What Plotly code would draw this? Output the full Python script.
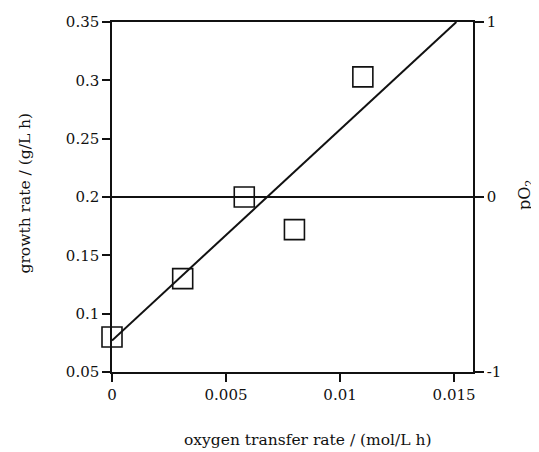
import plotly.graph_objects as go

# data
oxygen_transfer_rate = [0.0, 0.0031, 0.0058, 0.0080, 0.0110]
growth_rate = [0.080, 0.130, 0.200, 0.172, 0.303]
fit_x = [0.0, 0.0151]
fit_y = [0.077, 0.350]

x_ticks = [0, 0.005, 0.01, 0.015]
x_tick_labels = ["0", "0.005", "0.01", "0.015"]
y_ticks = [0.05, 0.1, 0.15, 0.2, 0.25, 0.3, 0.35]
y_tick_labels = ["0.05", "0.1", "0.15", "0.2", "0.25", "0.3", "0.35"]
y2_ticks = [-1, 0, 1]
y2_tick_labels = ["-1", "0", "1"]

FONT = "DejaVu Serif, Liberation Serif, serif"
INK = "#111111"

# page body has an 8px margin, so the figure is 8px smaller than the window
W, H = 531, 444
L, T, R, B = 104, 14, 66, 80
PW, PH = W - L - R, H - T - B

fig = go.Figure()
fig.add_trace(go.Scatter(x=fit_x, y=fit_y, mode="lines",
                         line=dict(color=INK, width=2), showlegend=False,
                         cliponaxis=False))
fig.add_trace(go.Scatter(x=oxygen_transfer_rate, y=growth_rate, mode="markers",
                         marker=dict(symbol="square-open", size=20,
                                     color=INK, line=dict(color=INK, width=1.6)),
                         showlegend=False, cliponaxis=False))
# invisible trace to activate right axis
fig.add_trace(go.Scatter(x=[0], y=[0], yaxis="y2", mode="markers",
                         marker=dict(opacity=0), showlegend=False, hoverinfo="skip"))

fig.update_layout(
    template="none",
    width=W, height=H,
    margin=dict(l=L, r=R, t=T, b=B, pad=0, autoexpand=False),
    paper_bgcolor="white", plot_bgcolor="white",
    font=dict(family=FONT, size=15, color=INK),
    xaxis=dict(range=[0, 0.01583], tickvals=x_ticks, ticktext=x_tick_labels,
               showline=True, linecolor=INK, linewidth=1.5, mirror=True,
               ticks="outside", ticklen=8, tickwidth=1.5, tickcolor=INK,
               showgrid=False, zeroline=False, automargin=False),
    yaxis=dict(range=[0.05, 0.35], tickvals=y_ticks, ticktext=y_tick_labels,
               showline=True, linecolor=INK, linewidth=1.5,
               ticks="outside", ticklen=8, tickwidth=1.5, tickcolor=INK,
               showgrid=False, zeroline=False, automargin=False),
    yaxis2=dict(range=[-1, 1], tickvals=y2_ticks, ticktext=y2_tick_labels,
                overlaying="y", side="right",
                showline=True, linecolor=INK, linewidth=1.5,
                ticks="outside", ticklen=9, tickwidth=1.5, tickcolor=INK,
                showgrid=False, zeroline=True, zerolinecolor=INK, zerolinewidth=1.5,
                automargin=False),
    annotations=[
        dict(text="growth rate / (g/L h)", xref="paper", yref="paper",
             x=(16 - L) / PW, y=0.51, xanchor="center", yanchor="middle",
             textangle=-90, showarrow=False, font=dict(size=15.5)),
        dict(text="oxygen transfer rate / (mol/L h)", xref="paper", yref="paper",
             x=(300 - L) / PW, y=((H - B) - 432) / PH, xanchor="center", yanchor="middle",
             showarrow=False, font=dict(size=15.5)),
        dict(text="pO<sub>2</sub>", xref="paper", yref="paper",
             x=(517 - L) / PW, y=((H - B) - 187) / PH, xanchor="center", yanchor="middle",
             textangle=-90, showarrow=False, font=dict(size=16)),
    ],
)

fig.write_html("out.html")
